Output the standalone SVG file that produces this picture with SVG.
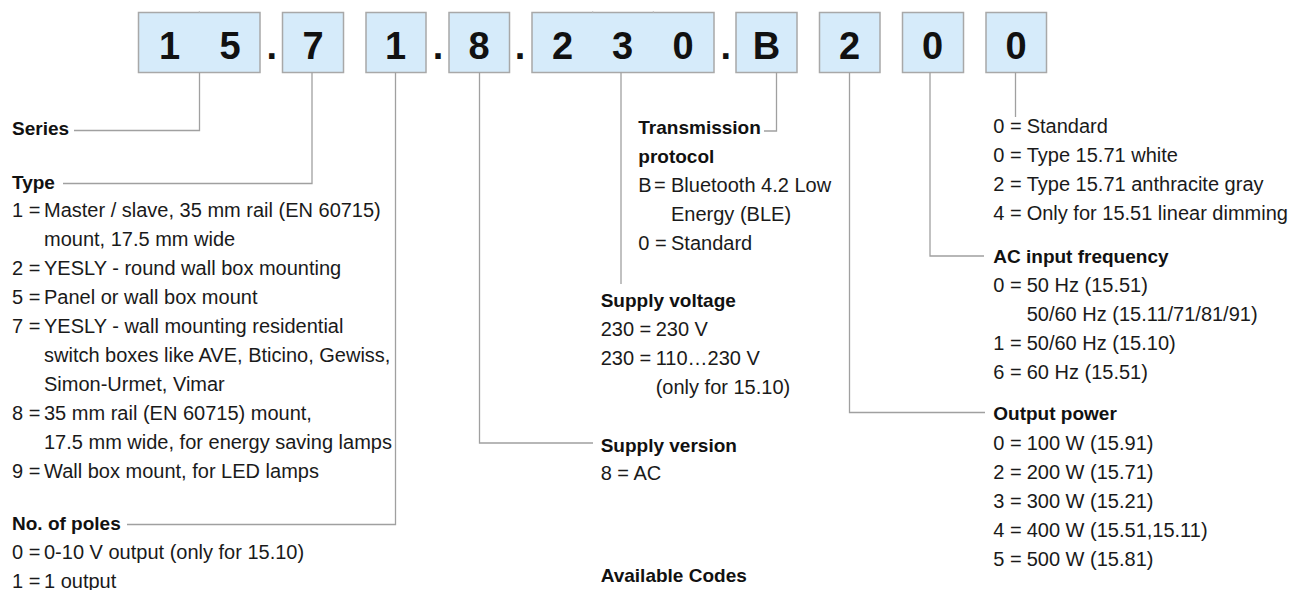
<svg xmlns="http://www.w3.org/2000/svg" width="1291" height="590" viewBox="0 0 1291 590">
<style>
.box{fill:#d6ebfa;stroke:#a8a8a8;stroke-width:1.5}
.dig{font-family:"Liberation Sans",Arial,sans-serif;font-weight:bold;font-size:38px;fill:#111;text-anchor:middle}
.t{font-family:"Liberation Sans",Arial,sans-serif;font-size:20px;fill:#1a1a1a}
.h{font-family:"Liberation Sans",Arial,sans-serif;font-size:19px;font-weight:bold;fill:#111}
.ln{fill:none;stroke:#a0a0a0;stroke-width:1.3}
.tick{stroke:#c4c4c4;stroke-width:1}
</style>
<rect width="1291" height="590" fill="#ffffff"/>
<g id="code">
  <g id="box-series"><rect class="box" x="138.5" y="12.5" width="121.5" height="60"/><line class="tick" x1="199.3" y1="11" x2="199.3" y2="12.5"/><text class="dig" x="169.5" y="59">1</text><text class="dig" x="230" y="59">5</text></g>
  <text class="dig" x="271.7" y="59">.</text>
  <g id="box-type"><rect class="box" x="282.5" y="12.5" width="61" height="60"/><text class="dig" x="313" y="59">7</text></g>
  <g id="box-poles"><rect class="box" x="366" y="12.5" width="60" height="60"/><text class="dig" x="395.5" y="59">1</text></g>
  <text class="dig" x="438" y="59">.</text>
  <g id="box-version"><rect class="box" x="449" y="12.5" width="60.5" height="60"/><text class="dig" x="479" y="59">8</text></g>
  <text class="dig" x="520" y="59">.</text>
  <g id="box-voltage"><rect class="box" x="532" y="12.5" width="182" height="60"/><line class="tick" x1="592.7" y1="11" x2="592.7" y2="12.5"/><line class="tick" x1="653.3" y1="11" x2="653.3" y2="12.5"/><text class="dig" x="562.5" y="59">2</text><text class="dig" x="622.5" y="59">3</text><text class="dig" x="683" y="59">0</text></g>
  <text class="dig" x="725.7" y="59">.</text>
  <g id="box-protocol"><rect class="box" x="736" y="12.5" width="61" height="60"/><text class="dig" x="766.5" y="59">B</text></g>
  <g id="box-power"><rect class="box" x="819.5" y="12.5" width="60.5" height="60"/><text class="dig" x="849.5" y="59">2</text></g>
  <g id="box-frequency"><rect class="box" x="902.5" y="12.5" width="61" height="60"/><text class="dig" x="932.5" y="59">0</text></g>
  <g id="box-standard"><rect class="box" x="986" y="12.5" width="60.5" height="60"/><text class="dig" x="1016" y="59">0</text></g>
</g>
<g id="connectors">
  <path class="ln" d="M199.5 72.5 V130.5 H74"/>
  <path class="ln" d="M312 72.5 V183.5 H63"/>
  <path class="ln" d="M395.5 72.5 V524.5 H127"/>
  <path class="ln" d="M479.5 72.5 V443 H593"/>
  <path class="ln" d="M621 72.5 V284"/>
  <path class="ln" d="M776.5 72.5 V131 H764"/>
  <path class="ln" d="M849.5 72.5 V412.5 H985"/>
  <path class="ln" d="M930 72.5 V256 H984"/>
  <path class="ln" d="M1015.5 72.5 V117"/>
</g>
<g id="series"><text class="h" x="12" y="135">Series</text></g>
<g id="type">
  <text class="h" x="12" y="189">Type</text>
  <text class="t" x="12" y="216.7">1 =<tspan x="44">Master / slave, 35 mm rail (EN 60715)</tspan></text>
  <text class="t" x="44" y="245.7">mount, 17.5 mm wide</text>
  <text class="t" x="12" y="274.7">2 =<tspan x="44">YESLY - round wall box mounting</tspan></text>
  <text class="t" x="12" y="303.7">5 =<tspan x="44">Panel or wall box mount</tspan></text>
  <text class="t" x="12" y="332.7">7 =<tspan x="44">YESLY - wall mounting residential</tspan></text>
  <text class="t" x="44" y="361.7">switch boxes like AVE, Bticino, Gewiss,</text>
  <text class="t" x="44" y="390.7">Simon-Urmet, Vimar</text>
  <text class="t" x="12" y="419.7">8 =<tspan x="44">35 mm rail (EN 60715) mount,</tspan></text>
  <text class="t" x="44" y="448.7">17.5 mm wide, for energy saving lamps</text>
  <text class="t" x="12" y="477.7">9 =<tspan x="44">Wall box mount, for LED lamps</tspan></text>
</g>
<g id="poles">
  <text class="h" x="12" y="530">No. of poles</text>
  <text class="t" x="12" y="559">0 =<tspan x="44">0-10 V output (only for 15.10)</tspan></text>
  <text class="t" x="12" y="588">1 =<tspan x="44">1 output</tspan></text>
</g>
<g id="protocol">
  <text class="h" x="638.3" y="134.3">Transmission</text>
  <text class="h" x="638.3" y="162.7">protocol</text>
  <text class="t" x="638.3" y="191.7">B<tspan x="654">=</tspan><tspan x="671">Bluetooth 4.2 Low</tspan></text>
  <text class="t" x="671" y="220.7">Energy (BLE)</text>
  <text class="t" x="638.3" y="249.7">0 =<tspan x="671">Standard</tspan></text>
</g>
<g id="voltage">
  <text class="h" x="600.7" y="307">Supply voltage</text>
  <text class="t" x="600.7" y="336.3">230 =<tspan x="655.7">230 V</tspan></text>
  <text class="t" x="600.7" y="365.3">230 =<tspan x="655.7">110…230 V</tspan></text>
  <text class="t" x="655.7" y="394.3">(only for 15.10)</text>
</g>
<g id="version">
  <text class="h" x="600.7" y="451.7">Supply version</text>
  <text class="t" x="600.7" y="480.3">8 = AC</text>
</g>
<g id="available"><text class="h" x="600.7" y="581.7">Available Codes</text></g>
<g id="standard">
  <text class="t" x="993.3" y="133.3">0 =<tspan x="1026.7">Standard</tspan></text>
  <text class="t" x="993.3" y="162.3">0 =<tspan x="1026.7">Type 15.71 white</tspan></text>
  <text class="t" x="993.3" y="191.3">2 =<tspan x="1026.7">Type 15.71 anthracite gray</tspan></text>
  <text class="t" x="993.3" y="220.3">4 =<tspan x="1026.7">Only for 15.51 linear dimming</tspan></text>
</g>
<g id="frequency">
  <text class="h" x="993.3" y="263.3">AC input frequency</text>
  <text class="t" x="993.3" y="292">0 =<tspan x="1026.7">50 Hz (15.51)</tspan></text>
  <text class="t" x="1026.7" y="321">50/60 Hz (15.11/71/81/91)</text>
  <text class="t" x="993.3" y="350">1 =<tspan x="1026.7">50/60 Hz (15.10)</tspan></text>
  <text class="t" x="993.3" y="379">6 =<tspan x="1026.7">60 Hz (15.51)</tspan></text>
</g>
<g id="power">
  <text class="h" x="993.3" y="420">Output power</text>
  <text class="t" x="993.3" y="450">0 =<tspan x="1026.7">100 W (15.91)</tspan></text>
  <text class="t" x="993.3" y="479">2 =<tspan x="1026.7">200 W (15.71)</tspan></text>
  <text class="t" x="993.3" y="508">3 =<tspan x="1026.7">300 W (15.21)</tspan></text>
  <text class="t" x="993.3" y="537">4 =<tspan x="1026.7">400 W (15.51,15.11)</tspan></text>
  <text class="t" x="993.3" y="566">5 =<tspan x="1026.7">500 W (15.81)</tspan></text>
</g>
</svg>
